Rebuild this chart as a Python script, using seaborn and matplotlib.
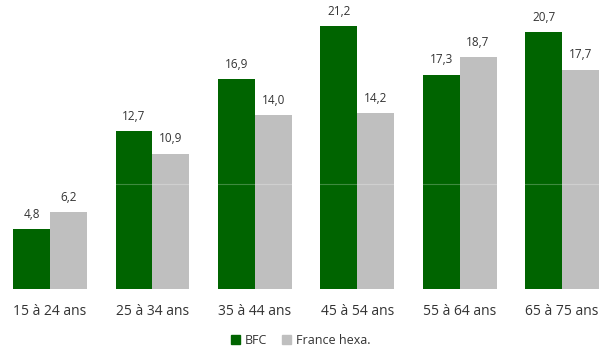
import matplotlib
matplotlib.use("Agg")
import matplotlib.pyplot as plt
import seaborn as sns
import pandas as pd

# Values
age_groups = ["15 à 24 ans", "25 à 34 ans", "35 à 44 ans",
              "45 à 54 ans", "55 à 64 ans", "65 à 75 ans"]
bfc = [4.8, 12.7, 16.9, 21.2, 17.3, 20.7]
france = [6.2, 10.9, 14.0, 14.2, 18.7, 17.7]
series = ["BFC", "France hexa."]
colors = ["#006400", "#BFBFBF"]

df = pd.DataFrame({
    "age": age_groups * 2,
    "value": bfc + france,
    "zone": [series[0]] * len(bfc) + [series[1]] * len(france),
})

sns.set_style("white")
plt.rcParams["font.family"] = ["Open Sans", "DejaVu Sans"]

fig = plt.figure(figsize=(6.02, 3.53), dpi=100)
ax = fig.add_axes([0, 0.182, 1, 0.818])

sns.barplot(data=df, x="age", y="value", hue="zone", palette=colors,
            width=0.72, gap=0, ax=ax, legend=False, saturation=1,
            linewidth=0)

# bar value labels, french decimal comma
for cont in ax.containers:
    ax.bar_label(cont, labels=[f"{b.get_height():.1f}".replace(".", ",") for b in cont],
                 padding=6, fontsize=8.5, color="#333333")

# faint line over the bars
ax.axhline(8.45, color="white", alpha=0.25, linewidth=0.8, zorder=5)

ax.set_xlim(-0.488, 5.39)
ax.set_ylim(0, 23.32)
ax.set_xlabel("")
ax.set_ylabel("")
ax.set_yticks([])
ax.tick_params(axis="x", length=0, pad=11, labelsize=10, labelcolor="#333333")
for s in ax.spines.values():
    s.set_visible(False)

handles = [plt.Rectangle((0, 0), 1, 1, color=c) for c in colors]
fig.legend(handles, series, loc="lower center", bbox_to_anchor=(0.5, -0.015),
           ncol=2, frameon=False, handlelength=0.7, handleheight=0.7,
           handletextpad=0.4, columnspacing=1.2, fontsize=9,
           labelcolor="#333333")

fig.savefig("out.png", dpi=100)
